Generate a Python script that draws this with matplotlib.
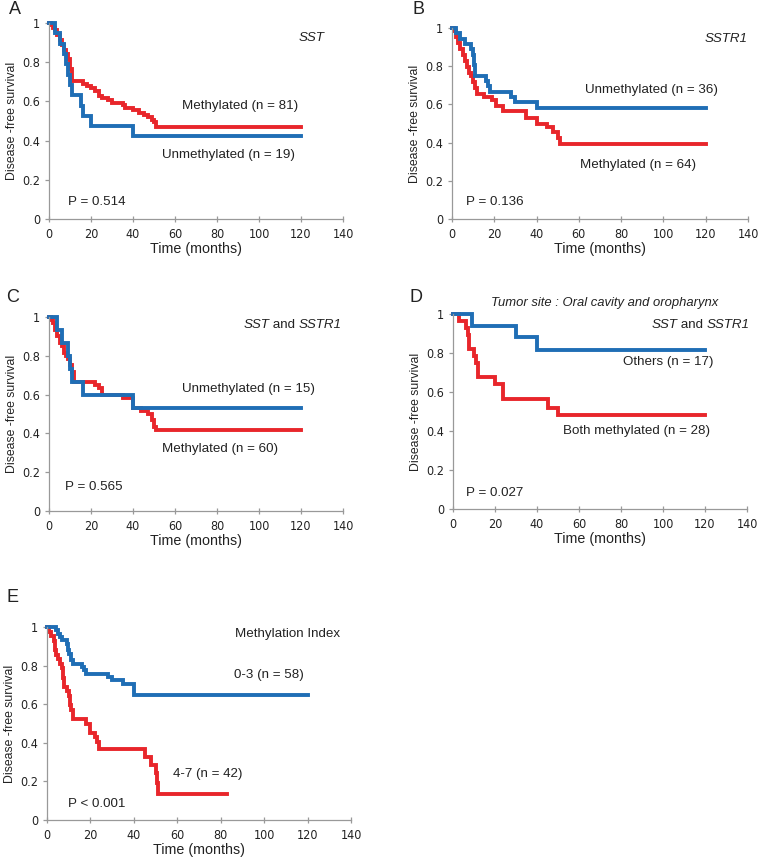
import matplotlib
matplotlib.use("Agg")
import matplotlib.pyplot as plt
from matplotlib import font_manager as fm
from matplotlib import transforms as mtransforms

RED = "#E8262B"
BLUE = "#1F6EB5"

# ---- data (time in months, survival) ----
a_unmeth_t = [0, 3, 5, 7, 8, 9, 10, 11, 15, 16, 20, 40, 120]
a_unmeth_s = [1.0, 0.947, 0.895, 0.842, 0.789, 0.737, 0.684, 0.632, 0.579, 0.526, 0.474, 0.421, 0.421]
a_meth_t = [0, 1, 2, 3, 4, 5, 6, 7, 8, 9, 10, 11, 16, 18, 20, 22, 24, 25, 28, 30, 35, 36, 40, 43, 45, 47, 49, 50, 51, 120]
a_meth_s = [1.0, 0.988, 0.975, 0.963, 0.938, 0.914, 0.889, 0.864, 0.84, 0.815, 0.765, 0.704, 0.691, 0.679, 0.667, 0.654, 0.63, 0.617, 0.605, 0.593, 0.58, 0.568, 0.556, 0.543, 0.531, 0.519, 0.506, 0.494, 0.469, 0.469]

b_unmeth_t = [0, 2, 4, 6, 9, 10, 10.5, 11, 16, 17, 18, 28, 30, 40, 120]
b_unmeth_s = [1.0, 0.972, 0.944, 0.917, 0.889, 0.861, 0.806, 0.75, 0.722, 0.694, 0.667, 0.639, 0.611, 0.583, 0.583]
b_meth_t = [0, 1, 2, 3, 4, 5, 6, 7, 8, 9, 10, 11, 12, 15, 19, 21, 24, 35, 40, 45, 48, 50, 51, 120]
b_meth_s = [1.0, 0.984, 0.953, 0.922, 0.891, 0.859, 0.828, 0.797, 0.766, 0.75, 0.719, 0.688, 0.656, 0.641, 0.625, 0.594, 0.563, 0.531, 0.5, 0.484, 0.453, 0.422, 0.391, 0.391]

c_unmeth_t = [0, 4, 6, 9, 10, 11, 16, 40, 120]
c_unmeth_s = [1.0, 0.933, 0.867, 0.8, 0.733, 0.667, 0.6, 0.533, 0.533]
c_meth_t = [0, 1, 2, 3, 4, 5, 6, 7, 8, 9, 10, 11, 12, 22, 24, 25, 35, 40, 44, 47, 49, 50, 51, 120]
c_meth_s = [1.0, 0.983, 0.967, 0.933, 0.9, 0.867, 0.85, 0.817, 0.8, 0.783, 0.75, 0.717, 0.667, 0.65, 0.633, 0.6, 0.583, 0.533, 0.517, 0.5, 0.467, 0.433, 0.417, 0.417]

d_others_t = [0, 9, 30, 40, 120]
d_others_s = [1.0, 0.941, 0.882, 0.815, 0.815]
d_both_t = [0, 3, 6, 7, 7.5, 10, 11, 12, 20, 24, 45, 50, 120]
d_both_s = [1.0, 0.964, 0.929, 0.893, 0.821, 0.786, 0.75, 0.679, 0.643, 0.564, 0.52, 0.48, 0.48]

e_low_t = [0, 4, 5, 6, 7, 9, 9.5, 10, 11, 12, 16, 17, 18, 28, 30, 35, 40, 120]
e_low_s = [1.0, 0.983, 0.966, 0.948, 0.931, 0.914, 0.879, 0.862, 0.828, 0.81, 0.793, 0.776, 0.759, 0.741, 0.724, 0.707, 0.647, 0.647]
e_high_t = [0, 1, 2, 3, 3.5, 4, 5, 6, 7, 7.5, 8, 9, 10, 10.5, 11, 12, 18, 20, 22, 23, 24, 45, 48, 50, 50.5, 51, 83]
e_high_s = [1.0, 0.976, 0.952, 0.929, 0.881, 0.857, 0.833, 0.81, 0.786, 0.738, 0.69, 0.667, 0.643, 0.595, 0.571, 0.524, 0.5, 0.452, 0.429, 0.405, 0.369, 0.328, 0.287, 0.246, 0.191, 0.137, 0.137]

x_ticks = [0, 20, 40, 60, 80, 100, 120, 140]
y_ticks = [0, 0.2, 0.4, 0.6, 0.8, 1.0]
y_tick_labels = ["0", "0.2", "0.4", "0.6", "0.8", "1"]

W, H = 758, 863
fig = plt.figure(figsize=(W / 100, H / 100), dpi=100)
renderer = fig.canvas.get_renderer()

TXT = "Liberation Sans"
TSIZE = 9.6

# pick a narrow font for tick labels if available
_entries = [(f.name, str(f.stretch)) for f in fm.fontManager.ttflist]
if any(n == "Liberation Sans Narrow" for n, s in _entries):
    TICK_KW = dict(family="Liberation Sans Narrow", size=10.0)
elif any(n == "DejaVu Sans" and "condensed" in s for n, s in _entries):
    TICK_KW = dict(family="DejaVu Sans", stretch="condensed", size=9.0)
else:
    TICK_KW = dict(family="Lato", size=9.0)


def make_ax(l, r, t, b):
    return fig.add_axes([l / W, 1 - b / H, (r - l) / W, (b - t) / H])


def style(ax):
    ax.set_xlim(0, 140)
    ax.set_ylim(0, 1)
    ax.set_xticks(x_ticks)
    ax.set_yticks(y_ticks)
    ax.set_yticklabels(y_tick_labels)
    for s in ["top", "right"]:
        ax.spines[s].set_visible(False)
    for s in ["left", "bottom"]:
        ax.spines[s].set_color("#999999")
        ax.spines[s].set_linewidth(0.9)
    ax.tick_params(axis="both", colors="#999999", length=3, width=0.9,
                   labelcolor="#222222")
    ax.tick_params(axis="x", direction="inout", length=5, pad=4)
    for lab in ax.get_xticklabels() + ax.get_yticklabels():
        lab.set_fontproperties(fm.FontProperties(**TICK_KW))
    ax.set_xlabel("Time (months)", fontsize=10.3, family=TXT, labelpad=1, color="#222222")
    ax.set_ylabel("Disease -free survival", fontsize=8.8, family=TXT, labelpad=3, color="#222222")


def curve(ax, t, s, c):
    ax.step(t, s, where="post", color=c, lw=2.8, solid_joinstyle="miter", clip_on=False)


def txt(ax, x, y, s, ha="center", style_="normal", size=TSIZE):
    ax.text(x, y, s, ha=ha, va="center", fontsize=size, family=TXT, style=style_, color="#222222")


def mixed(ax, xc, y, parts, size=TSIZE):
    # parts: list of (string, style); centred at data x = xc
    widths = []
    for s, st in parts:
        t = ax.text(0, 0, s, fontsize=size, family=TXT, style=st)
        widths.append(t.get_window_extent(renderer).width)
        t.remove()
    total = sum(widths)
    off = -total / 2
    for (s, st), w in zip(parts, widths):
        tr = mtransforms.offset_copy(ax.transData, fig=fig, x=off / fig.dpi, y=0, units="inches")
        ax.text(xc, y, s, ha="left", va="center", fontsize=size, family=TXT, style=st,
                color="#222222", transform=tr)
        off += w


GENES = [("SST", "italic"), (" and ", "normal"), ("SSTR1", "italic")]

# Panel A
ax = make_ax(49, 343, 23, 219)
curve(ax, a_meth_t, a_meth_s, RED)
curve(ax, a_unmeth_t, a_unmeth_s, BLUE)
style(ax)
txt(ax, 125, 0.923, "SST", style_="italic")
txt(ax, 91, 0.578, "Methylated (n = 81)")
txt(ax, 85.4, 0.324, "Unmethylated (n = 19)")
txt(ax, 9, 0.085, "P = 0.514", ha="left")

# Panel B
ax = make_ax(452, 748, 28, 219)
curve(ax, b_meth_t, b_meth_s, RED)
curve(ax, b_unmeth_t, b_unmeth_s, BLUE)
style(ax)
txt(ax, 129.5, 0.944, "SSTR1", style_="italic")
txt(ax, 94.2, 0.673, "Unmethylated (n = 36)")
txt(ax, 87.9, 0.283, "Methylated (n = 64)")
txt(ax, 6.7, 0.087, "P = 0.136", ha="left")

# Panel C
ax = make_ax(49, 343, 317, 511)
curve(ax, c_meth_t, c_meth_s, RED)
curve(ax, c_unmeth_t, c_unmeth_s, BLUE)
style(ax)
mixed(ax, 116, 0.96, GENES)
txt(ax, 95, 0.628, "Unmethylated (n = 15)")
txt(ax, 81.3, 0.322, "Methylated (n = 60)")
txt(ax, 7.5, 0.124, "P = 0.565", ha="left")

# Panel D
ax = make_ax(453, 747, 314, 509)
curve(ax, d_both_t, d_both_s, RED)
curve(ax, d_others_t, d_others_s, BLUE)
style(ax)
txt(ax, 72, 1.055, "Tumor site : Oral cavity and oropharynx", style_="italic", size=9.4)
mixed(ax, 118, 0.944, GENES)
txt(ax, 102.7, 0.756, "Others (n = 17)")
txt(ax, 87.2, 0.402, "Both methylated (n = 28)")
txt(ax, 6.3, 0.08, "P = 0.027", ha="left")

# Panel E
ax = make_ax(47, 351, 627, 820)
curve(ax, e_high_t, e_high_s, RED)
curve(ax, e_low_t, e_low_s, BLUE)
style(ax)
txt(ax, 110.7, 0.962, "Methylation Index")
txt(ax, 102, 0.75, "0-3 (n = 58)")
txt(ax, 74, 0.238, "4-7 (n = 42)")
txt(ax, 9.5, 0.084, "P < 0.001", ha="left")

# panel letters
for lab, px, py in [("A", 15, 10), ("B", 418, 10), ("C", 13, 297), ("D", 416, 297), ("E", 13, 597)]:
    fig.text(px / W, 1 - py / H, lab, fontsize=13, family=TXT, ha="center", va="center", color="#222222")

fig.savefig("out.png", dpi=100)
